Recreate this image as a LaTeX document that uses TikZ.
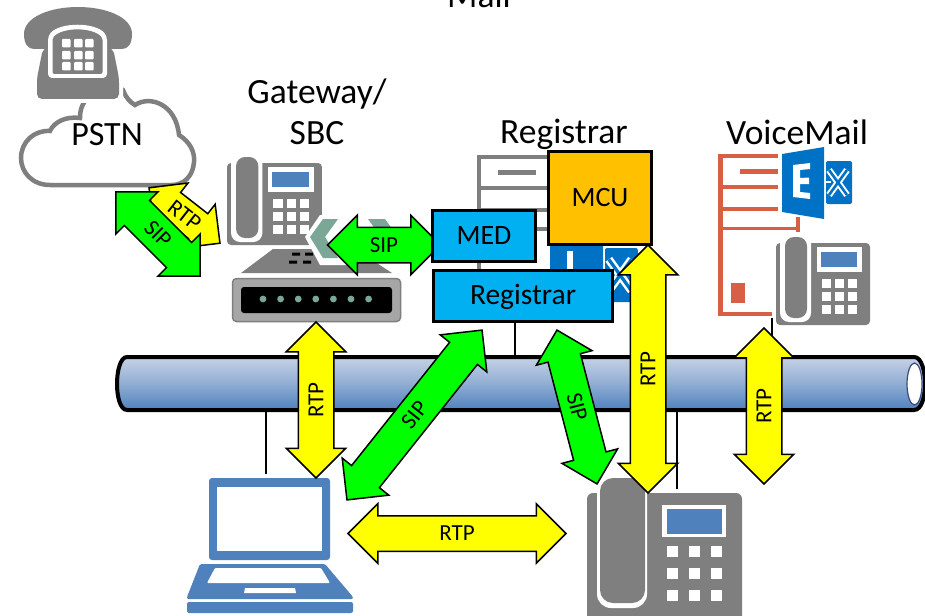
\documentclass[tikz,border=0pt]{standalone}
\usepackage{fontspec}
\setmainfont{Carlito}
\usetikzlibrary{shapes.arrows}
\definecolor{icongray}{RGB}{127,127,127}
\definecolor{iconblue}{RGB}{79,129,189}
\definecolor{exblue}{RGB}{0,114,198}
\definecolor{vmred}{RGB}{215,95,69}
\definecolor{chev}{RGB}{123,167,151}
\definecolor{boxblue}{RGB}{0,176,240}
\definecolor{boxgold}{RGB}{255,192,0}
\definecolor{pipetopc}{RGB}{198,210,229}
\definecolor{boxgray}{RGB}{166,166,166}
\definecolor{pipeend}{RGB}{59,74,128}
\definecolor{arrowyellow}{RGB}{255,255,0}
\definecolor{arrowgreen}{RGB}{0,255,0}
\tikzset{
  blockarrow/.style={double arrow,draw=black,line width=1.5pt,miter limit=20,
    double arrow head extend=12pt,text height=14.5pt,text depth=0pt,
    inner ysep=9.75pt,inner xsep=0pt,outer sep=0pt,font=\fontsize{23}{23}\selectfont},
  yellowarrow/.style={blockarrow,fill=arrowyellow},
  greenarrow/.style={blockarrow,fill=arrowgreen},
  titlelabel/.style={font=\fontsize{35.5}{35.5}\selectfont,inner sep=0pt},
  boxlabel/.style={draw=black,line width=2.2pt,font=\fontsize{28}{28}\selectfont,inner sep=0pt,text height=17.6pt,text depth=0pt},
  droplink/.style={draw=black,line width=1.2pt},
}
% desk phone: origin x,y, x scale, y scale, top overshoot of handset
\newcommand{\phoneicon}[5]{%
\begin{scope}[shift={(#1,#2)},xscale=#3,yscale=#4]
  \fill[icongray,rounded corners=4pt] (0,0) rectangle (94,82);
  \fill[white,rounded corners=9pt] (4,#5-4) rectangle (35,79);
  \fill[white] (0,#5-5) rectangle (40,0);
  \fill[icongray,rounded corners=9pt] (9,#5) rectangle (31,75);
  \fill[white] (41,4) rectangle (86,29);
  \fill[iconblue] (45,9) rectangle (81,24);
  \foreach \kx in {46,59,72}\foreach \ky in {36,49,62}
    \fill[white] (\kx,\ky) rectangle (\kx+9,\ky+9);
\end{scope}}
% X tile of the Exchange logo
\newcommand{\xtile}[3]{%
\begin{scope}[shift={(#1,#2)},scale=#3]
  \fill[exblue,rounded corners=2pt] (0,0) rectangle (26,43);
  \draw[white,line width=#3*6.5pt] (3,9) -- (21,34) (21,9) -- (3,34);
  \draw[exblue,line width=#3*2.6pt] (3,9) -- (21,34) (21,9) -- (3,34);
  \draw[white,line width=#3*2pt] (0,21) -- (5,21);
\end{scope}}
\begin{document}
\begin{tikzpicture}[x=1pt,y=-1pt]
\useasboundingbox (0,0) rectangle (925,615);
\clip (0,0) rectangle (925,615);
\fill[white] (0,0) rectangle (925,615);

% ---- PSTN cloud and old telephone
\draw[icongray,line width=4.5pt,fill=white]
  (50,185) .. controls (32,185) and (21,172) .. (21,158)
  .. controls (21,142) and (34,130) .. (50,131)
  .. controls (54,122) and (66,116) .. (80,118)
  .. controls (80,110) and (82,100) .. (95,92)
  .. controls (106,85) and (118,86) .. (123,90)
  .. controls (126,98) and (130,102) .. (135,105)
  .. controls (150,95) and (176,104) .. (179,135)
  .. controls (190,142) and (195,152) .. (194,162)
  .. controls (193,176) and (184,185) .. (172,185) -- cycle;
\fill[white,rounded corners=6pt] (43,46) -- (114,46) -- (123,82) -- (123,103) -- (33,103) -- (33,82) -- cycle;
\fill[icongray] (24,34) .. controls (24,17) and (50,7) .. (78,7)
  .. controls (106,7) and (132,17) .. (132,34)
  .. controls (132,44) and (128,49) .. (122,49) -- (106,49) -- (106,36)
  .. controls (96,27) and (60,27) .. (50,36) -- (50,49) -- (34,49)
  .. controls (28,49) and (24,44) .. (24,34) -- cycle;
\fill[icongray,rounded corners=5pt] (43,48) -- (113,48) -- (119,78) -- (119,99) -- (37,99) -- (37,78) -- cycle;
\fill[white,rounded corners=4pt] (48,78) -- (48,36) .. controls (60,22) and (95,22) .. (107,36) -- (107,78) -- cycle;
\fill[icongray,rounded corners=2pt] (52.5,74) -- (52.5,38) .. controls (63,27) and (92,27) .. (102.5,38) -- (102.5,74) -- cycle;
\foreach \kx in {62,74,85}\foreach \ky in {39,51,62}
  \fill[white,rounded corners=1pt] (\kx,\ky) rectangle (\kx+8.5,\ky+8.5);
\node[inner sep=0pt,font=\fontsize{34}{34}\selectfont] (pstnlabel) at (107,135) {PSTN};

% ---- Gateway / SBC
\node[titlelabel] (gwlabel) at (317,94) {Gateway/};
\node[titlelabel] (sbclabel) at (317,133) {SBC};
\phoneicon{227}{163}{1.01}{1}{-6}
\fill[icongray] (273,249) -- (355,249) -- (392,273) -- (241,273) -- cycle;
\fill[white] (305,237) -- (320,215) -- (347,215) -- (331,237) -- (347,265) -- (320,265) -- cycle;
\fill[chev] (310,237) -- (323,219) -- (338,219) -- (325,237) -- (338,258) -- (323,258) -- cycle;
\fill[chev] (368,219) -- (385,219) -- (398,237) -- (385,258) -- (368,258) -- (381,237) -- cycle;
\fill[black] (292,252.5) rectangle (300,255.5) (305,252.5) rectangle (313,255.5)
             (289,260.5) rectangle (297,263.5) (303,260.5) rectangle (311,263.5);
\draw[icongray,fill=boxgray,line width=1.5pt,rounded corners=4pt] (232.5,278.5) rectangle (400.5,321.5);
\fill[black,rounded corners=3pt] (241,287) rectangle (392,313);
\foreach \dotx in {263,280.6,298.2,315.8,333.4,351,368.6}
  \fill[chev] (\dotx,299) circle[radius=3.4];

% ---- Registrar server and Exchange logo behind the boxes
\node[titlelabel] (reglabel) at (564,134) {Registrar};
\draw[icongray,line width=4pt] (548,157) -- (479,157) -- (479,272)
  (479,188) -- (548,188) (479,210) -- (548,210) (479,229) -- (548,229);
\draw[icongray,line width=5pt] (498,172) -- (536,172);
\fill[exblue] (550,239) -- (603,230) -- (603,321) -- (550,312) -- cycle;
\fill[white] (567,251) rectangle (573,272);
\xtile{605}{248}{1.26}

% ---- VoiceMail server
\node[titlelabel] (vmlabel) at (797,132) {VoiceMail};
\draw[vmred,line width=4.5pt] (778,156) -- (720.5,156) -- (720.5,314) -- (772,314);
\draw[vmred,line width=5pt] (740,171) -- (778,171);
\draw[vmred,line width=4pt] (720,187) -- (778,187) (720,209) -- (778,209);
\draw[vmred,line width=3pt] (720,228) -- (798,228);
\draw[vmred,line width=4pt] (798,217) -- (798,233);
\fill[vmred] (731,283) rectangle (745,303);
\fill[exblue] (782,154) -- (824,147) -- (824,219) -- (782,212) -- cycle;
\fill[white] (793,165) -- (810,163) -- (810,169) -- (800,170) -- (800,178) -- (809,177.5) -- (809,184) -- (800,184) -- (800,192) -- (810,193) -- (810,199) -- (793,197) -- cycle;
\xtile{826}{161}{1}
\phoneicon{776}{243}{1}{1}{-6}

% ---- Pipe and the drops to it
\coordinate (pipetop) at (520,357);
\coordinate (pipebottom) at (520,410);
\coordinate (regdrop) at (515,320);
\coordinate (mcudrop) at (631,320);
\coordinate (vmdrop) at (772,318);
\coordinate (laptopdrop) at (266,474);
\coordinate (phonedrop) at (677,489);
\draw[droplink] (regdrop) -- (regdrop |- pipetop);
\draw[droplink] (mcudrop) -- (mcudrop |- pipetop);
\draw[droplink] (vmdrop) -- (vmdrop |- pipetop);
\draw[line width=4pt,draw=black,top color=pipetopc,bottom color=iconblue,middle color=pipetopc!55!iconblue]
  (127,357) -- (914,357) .. controls (922,357) and (925,372) .. (925,384)
  .. controls (925,396) and (922,410) .. (914,410) -- (127,410)
  .. controls (120,410) and (117,396) .. (117,384)
  .. controls (117,372) and (120,357) .. (127,357) -- cycle;
\draw[pipeend,line width=1.2pt,fill=white] (914.5,384) ellipse[x radius=7.5,y radius=21];
\draw[droplink] (laptopdrop) -- (laptopdrop |- pipebottom);
\draw[droplink] (phonedrop) -- (phonedrop |- pipebottom);

% ---- Laptop
\fill[iconblue,rounded corners=3pt] (209,478) rectangle (330,560);
\fill[white] (217,487) rectangle (322,551);
\fill[iconblue,rounded corners=1.5pt] (200,564) -- (325,564) -- (353,597) -- (353,599) -- (187,599) -- (187,597) -- cycle;
\fill[white,rounded corners=1pt] (215,568) -- (321,568) -- (330,583) -- (207,583) -- cycle;
\fill[white] (245,588) -- (295,588) -- (296,593) -- (244,593) -- cycle;
\fill[iconblue,rounded corners=2pt] (187,602) rectangle (353,613);

% ---- Large desk phone
\fill[icongray,rounded corners=6pt] (587,493) rectangle (742,640);
\fill[white,rounded corners=14pt] (597,470) rectangle (647,608);
\fill[white] (587,470) rectangle (650,493);
\fill[icongray,rounded corners=13pt] (600,478) rectangle (645,603);
\fill[white] (662,505) rectangle (726,537);
\fill[iconblue] (667,509) rectangle (722,534);
\foreach \kx in {667,689,711}\foreach \ky in {546,568,590}
  \fill[white] (\kx,\ky) rectangle (\kx+11,\ky+11);

% ---- Arrows under the boxes
\node[yellowarrow,rotate=-38,minimum height=90pt,inner ysep=7.75pt] (rtppstn) at (184.5,215.5) {RTP};
\node[greenarrow,rotate=-45,minimum height=119pt] (sippstn) at (158,234) {SIP};
\node[greenarrow,minimum height=113pt] (sipgw) at (384,245) {SIP};
\node[yellowarrow,rotate=90,minimum height=156pt] (rtpgw) at (316,400) {RTP};
\node[greenarrow,rotate=51.5,minimum height=217pt] (siplaptop) at (414.5,415) {SIP};
\node[greenarrow,rotate=-75.4,minimum height=159pt,inner ysep=8.75pt] (sipphone) at (577,407) {SIP};
\node[yellowarrow,rotate=90,minimum height=156pt] (rtpvm) at (764,406) {RTP};
\node[yellowarrow,minimum height=218pt] (rtpdirect) at (457,533.5) {RTP};

% ---- Boxes
\node[boxlabel,fill=boxblue,minimum width=103pt,minimum height=51pt] (med) at (484,236) {MED};
\node[boxlabel,fill=boxblue,minimum width=179pt,minimum height=51pt,font=\fontsize{29.5}{29.5}\selectfont] (registrar) at (523,296) {Registrar};
\node[boxlabel,fill=boxgold,minimum width=103pt,minimum height=93pt] (mcu) at (600,198) {MCU};

\node[yellowarrow,rotate=90,minimum height=248pt] (rtpmcu) at (648,369) {RTP};

% ---- Clipped title at the top edge
\node[titlelabel,anchor=base] (maillabel) at (479,7.5) {Mail};
\end{tikzpicture}
\end{document}
